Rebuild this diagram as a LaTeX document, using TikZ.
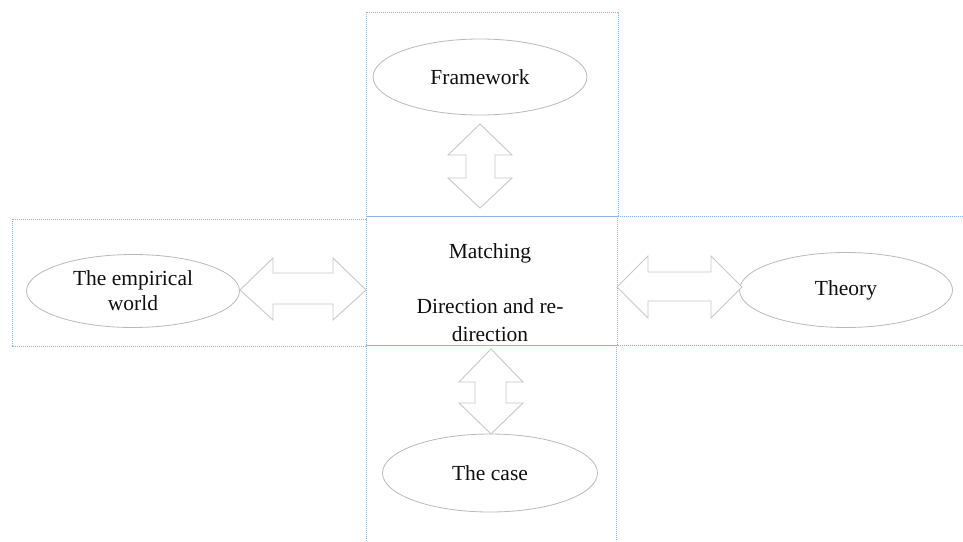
\documentclass[tikz,border=0pt]{standalone}
\usepackage{fontspec}
\setmainfont{Liberation Serif}
\usetikzlibrary{shapes.geometric}
\definecolor{boxblue}{RGB}{140,180,228}
\definecolor{arrgray}{RGB}{200,200,200}
\definecolor{ellgray}{RGB}{185,185,185}
\definecolor{txt}{RGB}{15,15,15}
\tikzset{
  frame/.style={draw=boxblue, line width=0.7pt, dash pattern=on 1.2pt off 0.8pt},
  oval/.style={ellipse, draw=ellgray, line width=0.8pt, inner sep=0pt,
    minimum width=214pt, minimum height=76pt, text=txt, align=center,
    font=\fontsize{21.5}{25}\selectfont},
  blockarrow/.style={draw=arrgray, line width=0.9pt, fill=white, line join=miter}
}
\begin{document}
\begin{tikzpicture}[x=1pt,y=-1pt]
\useasboundingbox (0,0) rectangle (963,541);
% frames
\draw[frame] (366,12) rectangle (618,216);
\draw[frame] (12,219) rectangle (366,346);
\draw[frame] (963,216) -- (617,216) -- (617,345) -- (963,345);
\draw[frame] (366,216) rectangle (617,345);
\draw[frame] (366,541) -- (366,345) -- (616,345) -- (616,541);
% ellipses
\node[oval] (frame) at (480,77) {Framework};
\node[oval, minimum width=213pt, minimum height=73pt] (emp) at (133,291) {The empirical\\world};
\node[oval, minimum width=213pt, minimum height=75pt] (theory) at (846,290) {Theory};
\node[oval, minimum width=215pt, minimum height=78pt] (case) at (490,473) {The case};
% center text
\node[text=txt, align=center, font=\fontsize{21.5}{28}\selectfont] (match) at (490,293)
  {Matching\\[27pt]Direction and re-\\direction};
% top vertical double arrow
\coordinate (ta) at (480,124);
\coordinate (tb) at (480,208);
\draw[blockarrow] (ta) -- (512,155) -- (495,155) -- (495,178) -- (512,178) -- (tb)
  -- (448,178) -- (466,178) -- (466,155) -- (448,155) -- cycle;
% bottom vertical double arrow
\coordinate (ba) at (491,349);
\coordinate (bb) at (491,434);
\draw[blockarrow] (ba) -- (523,382) -- (506,382) -- (506,403) -- (523,403) -- (bb)
  -- (459,403) -- (475,403) -- (475,382) -- (459,382) -- cycle;
% left horizontal double arrow
\coordinate (la) at (240,290);
\coordinate (lb) at (366,290);
\draw[blockarrow] (la) -- (273,258) -- (273,273) -- (333,273) -- (333,258) -- (lb)
  -- (333,320) -- (333,304) -- (273,304) -- (273,320) -- cycle;
% right horizontal double arrow
\coordinate (ra) at (617,287);
\coordinate (rb) at (742,287);
\draw[blockarrow] (ra) -- (648,256) -- (648,272) -- (711,272) -- (711,256) -- (rb)
  -- (711,318) -- (711,301) -- (648,301) -- (648,318) -- cycle;
\end{tikzpicture}
\end{document}
